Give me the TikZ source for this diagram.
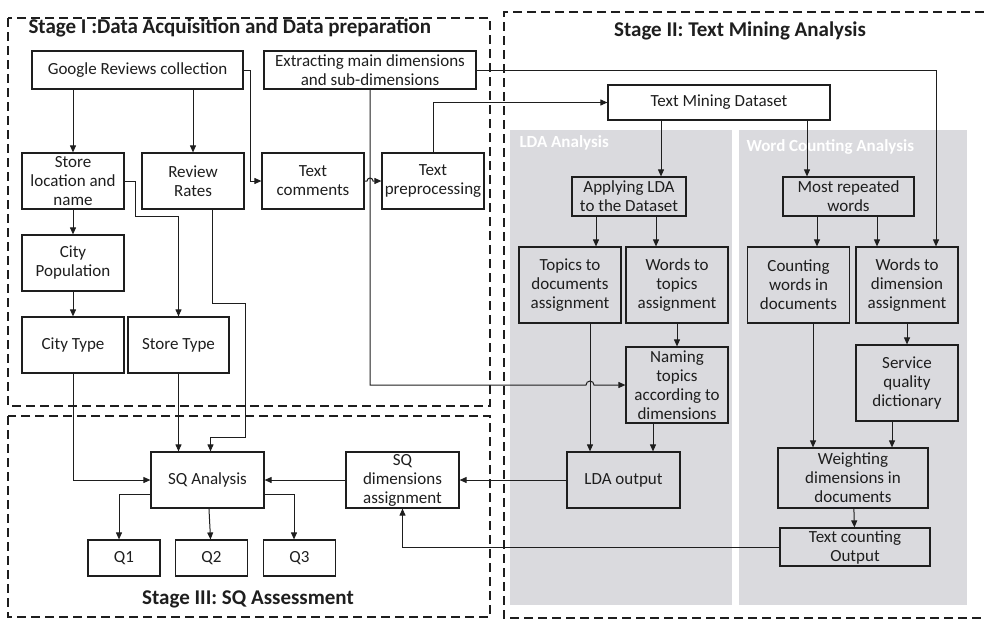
\documentclass[tikz,border=0pt]{standalone}
\usepackage{fontspec}
\setmainfont{Carlito}
\usetikzlibrary{arrows.meta}
\definecolor{panelgray}{RGB}{218,218,222}
\definecolor{inkgray}{RGB}{30,30,30}
\begin{document}
\begin{tikzpicture}[
    x=1pt, y=-1pt,
    box/.style={draw=inkgray, line width=1.2pt, align=center, inner sep=1pt, text=inkgray,
        font=\fontsize{17}{19}\selectfont},
    sbox/.style={box, minimum width=102pt, minimum height=56pt},
    tbox/.style={box, minimum width=102pt, minimum height=76pt},
    wbox/.style={box, minimum width=113pt, minimum height=56pt},
    qbox/.style={box, minimum width=72pt, minimum height=36pt},
    arr/.style={-{Triangle[length=7pt,width=6pt]}, line width=1pt, draw=inkgray},
    stageframe/.style={dashed, dash pattern=on 9pt off 5pt, line width=1.5pt, draw=inkgray},
    stagetitle/.style={font=\fontsize{21}{23}\selectfont\bfseries, text=inkgray},
    paneltitle/.style={font=\fontsize{17}{19}\selectfont\bfseries, text=white}
]
\useasboundingbox (0,0) rectangle (984,619);

% Panels
\fill[panelgray] (510,130) rectangle (732,605);
\fill[panelgray] (739,130) rectangle (967,605);
\node[paneltitle, anchor=west] (ldat) at (516,143) {LDA Analysis};
\node[paneltitle, anchor=west] (wct) at (743,147) {Word Counting Analysis};

% Stages
\draw[stageframe] (8,18) rectangle (490,406);
\draw[stageframe] (8,416) rectangle (490,617);
\draw[stageframe] (984,12) -- (504,12) -- (504,618) -- (984,618);
\node[stagetitle, anchor=base west] (s1) at (25,33) {Stage I :Data Acquisition and Data preparation};
\node[stagetitle, anchor=base] (s2) at (740,36) {Stage II: Text Mining Analysis};
\node[stagetitle, anchor=base] (s3) at (248,604) {Stage III: SQ Assessment};

% Stage I
\node[box, minimum width=211pt, minimum height=38pt] (google) at (137.5,70) {Google Reviews collection};
\node[box, minimum width=212pt, minimum height=38pt] (ext) at (370,70) {Extracting main dimensions\\and sub-dimensions};
\node[sbox] (store) at (73,181) {Store\\location and\\name};
\node[sbox] (rates) at (193,181) {Review\\Rates};
\node[sbox] (tcomm) at (313,181) {Text\\comments};
\node[sbox] (tprep) at (433,181) {Text\\preprocessing};
\node[sbox] (citypop) at (73,263) {City\\Population};
\node[sbox] (citytype) at (73,345) {City Type};
\node[sbox, minimum width=101pt] (storetype) at (178.5,345) {Store Type};

% Stage III
\node[wbox] (sqa) at (207.5,480) {SQ Analysis};
\node[wbox] (sqdim) at (402.5,480) {SQ\\dimensions\\assignment};
\node[qbox] (q1) at (124,558) {Q1};
\node[qbox] (q2) at (211.5,558) {Q2};
\node[qbox] (q3) at (299.5,558) {Q3};

% Stage II
\node[box, minimum width=222pt, minimum height=35pt] (tmd) at (719,102.5) {Text Mining Dataset};
\node[box, minimum width=114pt, minimum height=39pt] (alda) at (629,196.5) {Applying LDA\\to the Dataset};
\node[box, minimum width=131pt, minimum height=39pt] (mrw) at (848.5,196.5) {Most repeated\\words};
\node[tbox] (topdoc) at (570,285) {Topics to\\documents\\assignment};
\node[tbox] (wtop) at (677,285) {Words to\\topics\\assignment};
\node[tbox] (cntw) at (798.5,285) {Counting\\words in\\documents};
\node[tbox] (wdim) at (907,285) {Words to\\dimension\\assignment};
\node[tbox] (naming) at (677,385) {Naming\\topics\\according to\\dimensions};
\node[tbox] (sqdict) at (907,383) {Service\\quality\\dictionary};
\node[wbox] (ldaout) at (623.5,480) {LDA output};
\node[box, minimum width=150pt, minimum height=60pt] (weight) at (853,478) {Weighting\\dimensions in\\documents};
\node[box, minimum width=150pt, minimum height=38pt] (tcout) at (855,547) {Text counting\\Output};

% Arrows stage I
\draw[arr] (store.north |- google.south) -- (store.north);
\draw[arr] (rates.north |- google.south) -- (rates.north);
\draw[arr] (google.east) -- ++(7,0) |- (tcomm.west);
\draw[arr] (tcomm.east) -- ([xshift=-3pt]ext.south |- tcomm.east) arc[start angle=180, end angle=0, radius=3pt] -- (tprep.west);
\draw[arr] (tprep.north) |- (tmd.west);
\draw[arr] (ext.east) -| ([xshift=29pt]wdim.north);
\draw[arr] (ext.south) |- ([xshift=16pt]topdoc.south |- naming.west) arc[start angle=180, end angle=0, radius=4pt] -- (naming.west);
\draw[arr] (store.east) -- ++(11,0) -- ++(0,35) -| (storetype.north);
\draw[arr] (store) -- (citypop);
\draw[arr] (citypop) -- (citytype);
\draw[arr] (citytype.south) |- (sqa.west);
\draw[arr] (storetype.south) -- (storetype.south |- sqa.north);
\draw[arr] ([xshift=19pt]rates.south) -- ++(0,94) -- ++(33,0) |- ([xshift=3pt, yshift=14pt]sqa.north) -- ([xshift=3pt]sqa.north);

% Arrows stage III
\draw[arr] (sqdim) -- (sqa);
\draw[arr] (ldaout) -- (sqdim);
\draw[arr] (tcout.west) -| (sqdim.south);
\draw[arr] ([yshift=-14pt]sqa.west) -| ([xshift=-5pt]q1.north);
\draw[arr] (sqa) -- (q2);
\draw[arr] ([yshift=-14pt]sqa.east) -| ([xshift=-5.5pt]q3.north);

% Arrows stage II
\draw[arr] ([xshift=32pt]alda.north |- tmd.south) -- ([xshift=32pt]alda.north);
\draw[arr] ([xshift=-41.5pt]mrw.north |- tmd.south) -- ([xshift=-41.5pt]mrw.north);
\draw[arr] ([xshift=26pt]topdoc.north |- alda.south) -- ([xshift=26pt]topdoc.north);
\draw[arr] ([xshift=-21pt]wtop.north |- alda.south) -- ([xshift=-21pt]wtop.north);
\draw[arr] ([xshift=18.5pt]cntw.north |- mrw.south) -- ([xshift=18.5pt]cntw.north);
\draw[arr] ([xshift=-30pt]wdim.north |- mrw.south) -- ([xshift=-30pt]wdim.north);
\draw[arr] (wtop) -- (naming);
\draw[arr] ([xshift=20pt]topdoc.south) -- ([xshift=20pt]topdoc.south |- ldaout.north);
\draw[arr] ([xshift=-24pt]naming.south) -- ([xshift=-24pt]naming.south |- ldaout.north);
\draw[arr] ([xshift=14.5pt]cntw.south) -- ([xshift=14.5pt]cntw.south |- weight.north);
\draw[arr] (wdim) -- (sqdict);
\draw[arr] ([xshift=-15pt]sqdict.south) -- ([xshift=-15pt]sqdict.south |- weight.north);
\draw[arr] (weight) -- (tcout);

\end{tikzpicture}
\end{document}
